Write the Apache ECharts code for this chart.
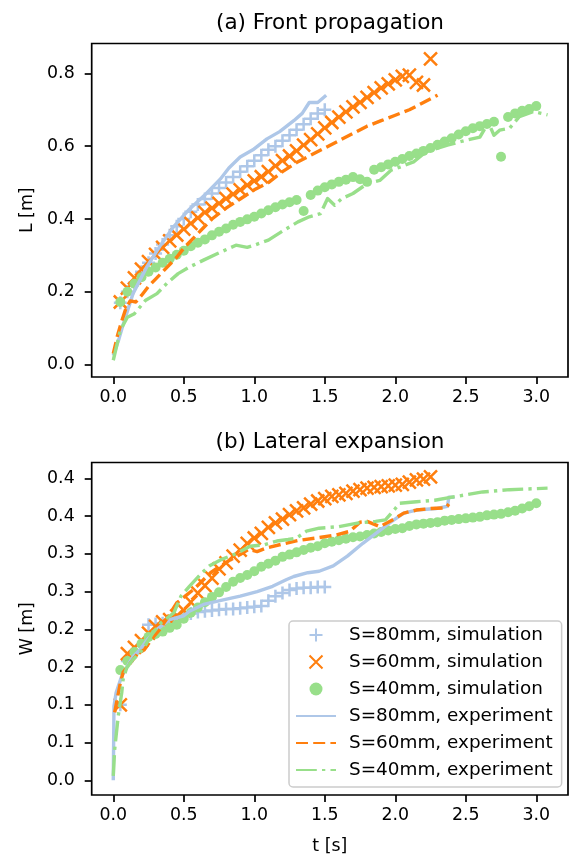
<!DOCTYPE html>
<html><head><meta charset="utf-8">
<script src="https://cdn.jsdelivr.net/npm/echarts@6/dist/echarts.min.js"></script>
<style>html,body{margin:0;padding:0;background:#fff}#c{width:569px;height:856px}</style>
</head><body><div id="c"></div>
<script>
// ---------- axis ticks / labels ----------
const xTicks = [0, 0.5, 1.0, 1.5, 2.0, 2.5, 3.0];
const lTicks = [0, 0.2, 0.4, 0.6, 0.8];
const wTicks = [0, 0.05, 0.10, 0.15, 0.20, 0.25, 0.30, 0.35, 0.40];
const wTickLabels = ['0.0', '0.1', '0.1', '0.2', '0.2', '0.3', '0.3', '0.4', '0.4'];
const seriesNames = ['S=80mm, simulation', 'S=60mm, simulation', 'S=40mm, simulation',
                     'S=80mm, experiment', 'S=60mm, experiment', 'S=40mm, experiment'];
const panelTitles = ['(a) Front propagation', '(b) Lateral expansion'];

// ---------- simulation times ----------
const tSim80 = [0.05,0.10,0.15,0.20,0.25,0.30,0.35,0.40,0.45,0.50,0.55,0.60,0.65,0.70,0.75,0.80,0.85,0.90,0.95,1.00,
                1.05,1.10,1.15,1.20,1.25,1.30,1.35,1.40,1.45,1.50];
const tSim60 = [0.05,0.10,0.15,0.20,0.25,0.30,0.35,0.40,0.45,0.50,0.55,0.60,0.65,0.70,0.75,0.80,0.85,0.90,0.95,1.00,
                1.05,1.10,1.15,1.20,1.25,1.30,1.35,1.40,1.45,1.50,1.55,1.60,1.65,1.70,1.75,1.80,1.85,1.90,1.95,2.00,
                2.05,2.10,2.15,2.20,2.25];
const tSim40 = [0.05,0.10,0.15,0.20,0.25,0.30,0.35,0.40,0.45,0.50,0.55,0.60,0.65,0.70,0.75,0.80,0.85,0.90,0.95,1.00,
                1.05,1.10,1.15,1.20,1.25,1.30,1.35,1.40,1.45,1.50,1.55,1.60,1.65,1.70,1.75,1.80,1.85,1.90,1.95,2.00,
                2.05,2.10,2.15,2.20,2.25,2.30,2.35,2.40,2.45,2.50,2.55,2.60,2.65,2.70,2.75,2.80,2.85,2.90,2.95,3.00];

// ---------- (a) front propagation L [m] ----------
const lSim80 = [0.17,0.20,0.225,0.255,0.28,0.305,0.33,0.355,0.38,0.40,0.42,0.44,0.455,0.47,0.485,0.50,0.515,0.53,0.545,0.56,
                0.575,0.59,0.60,0.615,0.63,0.645,0.66,0.675,0.69,0.70];
const lSim60 = [0.172,0.21,0.238,0.262,0.283,0.303,0.322,0.34,0.356,0.372,0.388,0.403,0.418,0.43,0.443,0.456,0.468,0.48,0.493,0.505,
                0.516,0.53,0.546,0.56,0.573,0.587,0.603,0.618,0.634,0.65,0.665,0.68,0.694,0.708,0.72,0.734,0.747,0.76,0.771,0.782,
                0.792,0.795,0.775,0.768,0.84];
const lSim40 = [0.172,0.20,0.222,0.24,0.255,0.267,0.28,0.291,0.302,0.313,0.325,0.335,0.344,0.355,0.365,0.374,0.384,0.392,0.399,0.406,
                0.415,0.424,0.432,0.44,0.446,0.452,0.422,0.466,0.478,0.487,0.495,0.502,0.508,0.515,0.509,0.502,0.535,0.542,0.55,0.557,
                0.565,0.573,0.58,0.587,0.595,0.604,0.613,0.622,0.632,0.641,0.649,0.655,0.661,0.667,0.571,0.68,0.69,0.697,0.702,0.71];
const tExpA80 = [0,0.04,0.07,0.14,0.24,0.33,0.43,0.54,0.66,0.76,0.82,0.9,0.99,1.09,1.18,1.28,1.34,1.39,1.45,1.51];
const lExp80  = [0.025,0.07,0.11,0.195,0.27,0.325,0.38,0.427,0.47,0.51,0.54,0.57,0.59,0.62,0.64,0.67,0.69,0.72,0.72,0.74];
const tExpA60 = [0,0.03,0.06,0.09,0.12,0.16,0.2,0.25,0.3,0.35,0.4,0.45,0.5,0.6,0.7,0.8,0.9,1.0,1.1,1.2,1.3,1.4,1.5,1.6,1.7,1.8,1.9,2.0,2.1,2.2,2.3];
const lExp60  = [0.03,0.08,0.12,0.155,0.175,0.172,0.19,0.215,0.235,0.255,0.275,0.295,0.32,0.36,0.40,0.43,0.455,0.48,0.50,0.53,0.555,0.575,0.595,0.615,0.635,0.655,0.67,0.685,0.70,0.72,0.74];
const tExpA40 = [0,0.05,0.1,0.15,0.23,0.31,0.38,0.46,0.54,0.64,0.74,0.87,0.95,1.0,1.1,1.21,1.31,1.39,1.47,1.52,1.57,1.62,1.70,1.80,1.89,1.97,2.05,2.13,2.22,2.37,2.51,2.6,2.66,2.70,2.74,2.81,2.88,2.98,3.08];
const lExp40  = [0.012,0.094,0.13,0.14,0.177,0.195,0.223,0.25,0.268,0.287,0.305,0.328,0.322,0.328,0.342,0.369,0.392,0.406,0.415,0.456,0.438,0.456,0.47,0.497,0.506,0.534,0.545,0.557,0.585,0.603,0.617,0.625,0.665,0.63,0.644,0.649,0.681,0.695,0.686];

// ---------- (b) lateral expansion W [m] ----------
const wSim80 = [0.10,0.158,0.17,0.178,0.206,0.207,0.208,0.21,0.213,0.217,0.221,0.223,0.224,0.225,0.226,0.227,0.227,0.228,0.229,0.23,
                0.231,0.238,0.244,0.248,0.252,0.254,0.255,0.255,0.256,0.256];
const wSim60 = [0.10,0.168,0.176,0.185,0.195,0.204,0.21,0.213,0.218,0.225,0.236,0.248,0.258,0.268,0.28,0.288,0.297,0.305,0.314,0.321,
                0.327,0.335,0.341,0.346,0.352,0.357,0.361,0.366,0.37,0.373,0.376,0.378,0.38,0.383,0.385,0.387,0.388,0.389,0.39,0.391,
                0.392,0.395,0.398,0.399,0.402];
const wSim40 = [0.146,0.158,0.17,0.181,0.19,0.194,0.197,0.202,0.206,0.214,0.222,0.229,0.236,0.243,0.249,0.256,0.263,0.268,0.272,0.277,
                0.283,0.287,0.291,0.296,0.299,0.302,0.305,0.308,0.31,0.314,0.316,0.318,0.32,0.322,0.323,0.325,0.327,0.329,0.331,0.333,
                0.334,0.337,0.339,0.34,0.341,0.342,0.344,0.345,0.346,0.347,0.348,0.349,0.351,0.352,0.353,0.355,0.357,0.36,0.363,0.367];
const tExpB80 = [0,0.005,0.02,0.06,0.1,0.14,0.19,0.24,0.31,0.4,0.5,0.54,0.64,0.78,0.9,1.02,1.13,1.23,1.28,1.38,1.46,1.56,1.66,1.77,1.87,1.96,2.06,2.15,2.29,2.37,2.38,2.42];
const wExp80  = [0,0.098,0.116,0.138,0.151,0.164,0.173,0.186,0.2,0.213,0.218,0.224,0.233,0.239,0.244,0.25,0.257,0.266,0.27,0.275,0.277,0.284,0.297,0.314,0.328,0.341,0.354,0.358,0.36,0.363,0.375,0.375];
const tExpB60 = [0.01,0.05,0.07,0.12,0.17,0.22,0.28,0.33,0.39,0.45,0.51,0.57,0.62,0.69,0.76,0.83,0.9,0.96,1.02,1.09,1.2,1.32,1.44,1.58,1.68,1.75,1.8,1.89,1.98,2.06,2.15,2.25,2.36,2.38];
const wExp60  = [0.09,0.129,0.143,0.155,0.167,0.173,0.189,0.2,0.217,0.235,0.244,0.253,0.262,0.275,0.284,0.292,0.299,0.306,0.303,0.308,0.313,0.318,0.321,0.325,0.33,0.342,0.343,0.336,0.345,0.354,0.358,0.36,0.361,0.366];
const tExpB40 = [0,0.01,0.035,0.06,0.07,0.095,0.14,0.19,0.225,0.28,0.34,0.43,0.46,0.48,0.54,0.62,0.68,0.76,0.88,0.97,1.07,1.16,1.24,1.30,1.37,1.46,1.6,1.74,1.86,1.93,2.0,2.03,2.15,2.28,2.43,2.62,2.81,3.08];
const wExp40  = [0.006,0.041,0.085,0.116,0.134,0.149,0.16,0.169,0.178,0.195,0.209,0.222,0.235,0.244,0.257,0.273,0.284,0.292,0.301,0.31,0.312,0.317,0.319,0.321,0.33,0.334,0.336,0.341,0.343,0.345,0.36,0.367,0.369,0.371,0.376,0.382,0.385,0.387];

// ---------- styling ----------
const C80 = '#aec7e8', C60 = '#ff7f0e', C40 = '#98df8a';
const FONT = 'DejaVu Sans';
const plusPath = 'path://M5,0L5,10M0,5L10,5';
const crossPath = 'path://M0,0L10,10M10,0L0,10';
const pairs = (xs, ys) => xs.map((x, i) => [x, ys[i]]);

function sim(name, k, xs, ys, color, kind) {
  const s = {name, type: 'scatter', xAxisIndex: k, yAxisIndex: k, data: pairs(xs, ys), z: 2};
  if (kind === 'dot') {
    s.symbol = 'circle'; s.symbolSize = 10; s.itemStyle = {color, opacity: 1};
  } else {
    s.symbol = kind === 'plus' ? plusPath : crossPath;
    s.symbolSize = 13;
    s.itemStyle = {color, borderColor: color, borderWidth: 2.5, opacity: 1};
  }
  return s;
}
function exp(name, k, xs, ys, color, dash) {
  return {name, type: 'line', xAxisIndex: k, yAxisIndex: k, data: pairs(xs, ys), symbol: 'none', z: 3,
          itemStyle: {color}, lineStyle: {color, width: 3.4, type: dash, cap: 'butt', join: 'round'}};
}
const DASH = [12, 5.2], DASHDOT = [20.8, 5.2, 3.3, 5.2];

const grids = [
  {left: 91.7, top: 43.5, width: 476.3, height: 333.5},
  {left: 91.7, top: 462.5, width: 476.3, height: 333.2}
].map(g => Object.assign(g, {show: true, borderColor: '#000', borderWidth: 1.7, backgroundColor: 'transparent'}));

const tickStyle = {show: true, length: 7, inside: false, lineStyle: {color: '#000', width: 1.7}};
const labelStyle = {fontFamily: FONT, fontSize: 17.4, color: '#000'};

function xAxis(k, withName) {
  const a = {gridIndex: k, type: 'value', min: -0.153, max: 3.225, position: 'bottom',
    axisLine: {show: false, onZero: false}, splitLine: {show: false},
    axisTick: Object.assign({customValues: xTicks}, tickStyle),
    axisLabel: Object.assign({customValues: xTicks, margin: 12, formatter: v => v.toFixed(1)}, labelStyle)};
  if (withName) {
    a.name = 't [s]'; a.nameLocation = 'middle'; a.nameGap = 43;
    a.nameTextStyle = Object.assign({}, labelStyle);
  }
  return a;
}
function wLabel(v) {
  for (let i = 0; i < wTicks.length; i++) if (Math.abs(wTicks[i] - v) < 1e-9) return wTickLabels[i];
  return '';
}
const yAxes = [
  {gridIndex: 0, type: 'value', min: -0.034, max: 0.882, name: 'L [m]',
   axisTick: Object.assign({customValues: lTicks}, tickStyle),
   axisLabel: Object.assign({customValues: lTicks, margin: 17, formatter: v => v.toFixed(1)}, labelStyle)},
  {gridIndex: 1, type: 'value', min: -0.0194, max: 0.421, name: 'W [m]',
   axisTick: Object.assign({customValues: wTicks}, tickStyle),
   axisLabel: Object.assign({customValues: wTicks, margin: 17, formatter: wLabel}, labelStyle)}
].map(a => Object.assign(a, {position: 'left', axisLine: {show: false, onZero: false}, splitLine: {show: false},
   nameLocation: 'middle', nameRotate: 90, nameGap: 53, nameTextStyle: Object.assign({}, labelStyle)}));

const series = [
  sim(seriesNames[0], 0, tSim80, lSim80, C80, 'plus'),
  sim(seriesNames[1], 0, tSim60, lSim60, C60, 'cross'),
  sim(seriesNames[2], 0, tSim40, lSim40, C40, 'dot'),
  exp(seriesNames[3], 0, tExpA80, lExp80, C80, 'solid'),
  exp(seriesNames[4], 0, tExpA60, lExp60, C60, DASH),
  exp(seriesNames[5], 0, tExpA40, lExp40, C40, DASHDOT),
  sim(seriesNames[0], 1, tSim80, wSim80, C80, 'plus'),
  sim(seriesNames[1], 1, tSim60, wSim60, C60, 'cross'),
  sim(seriesNames[2], 1, tSim40, wSim40, C40, 'dot'),
  exp(seriesNames[3], 1, tExpB80, wExp80, C80, 'solid'),
  exp(seriesNames[4], 1, tExpB60, wExp60, C60, DASH),
  exp(seriesNames[5], 1, tExpB40, wExp40, C40, DASHDOT)
];

const legendData = seriesNames.map((n, i) => i < 3 ? {name: n} : {name: n, itemStyle: {opacity: 0}});

const chart = echarts.init(document.getElementById('c'), null, {renderer: 'canvas'});
chart.setOption({
  animation: false,
  backgroundColor: '#fff',
  grid: grids,
  xAxis: [xAxis(0, false), xAxis(1, true)],
  yAxis: yAxes,
  legend: {
    orient: 'vertical', left: 289, top: 621, z: 10,
    padding: [4, 9, 7, 6], itemWidth: 40, itemHeight: 13, itemGap: 7,
    backgroundColor: 'rgba(255,255,255,0.8)', borderColor: '#cccccc', borderWidth: 1.5, borderRadius: 4,
    selectedMode: false,
    textStyle: {fontFamily: FONT, fontSize: 18.4, color: '#000', lineHeight: 20, padding: [0, 0, 0, 8]},
    data: legendData
  },
  graphic: panelTitles.map((t, i) => ({
    type: 'text', x: 330, y: i === 0 ? 23 : 442,
    style: {text: t, align: 'center', verticalAlign: 'middle', fontFamily: FONT, fontSize: 21.5, fill: '#000'}
  })),
  series
});
</script></body></html>
